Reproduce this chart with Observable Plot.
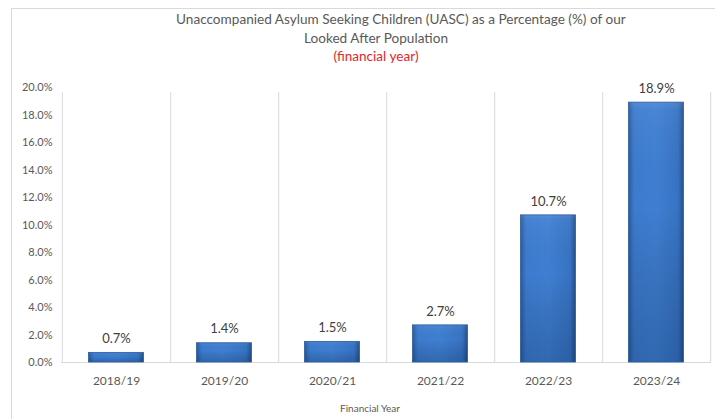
<!DOCTYPE html>
<html>
<head>
<meta charset="utf-8">
<script src="https://cdn.jsdelivr.net/npm/d3@7"></script>
<script src="https://cdn.jsdelivr.net/npm/@observablehq/plot@0.6"></script>
<style>
  body { margin: 0; background: #fff; font-family: Lato, "Open Sans", sans-serif; }
  #wrap { position: relative; width: 715px; height: 419px; overflow: hidden; }
  #frame { position: absolute; left: 11px; top: 8px; width: 720px; height: 430px; border: 1px solid #d9d9d9; box-sizing: border-box; }
  .t { position: absolute; left: 176px; width: 400px; text-align: center; font-size: 13.6px; color: #595959; white-space: nowrap; }
  #xlabel { position: absolute; left: 320px; width: 100px; top: 402px; text-align: center; font-size: 10px; color: #595959; }
  #chart { position: absolute; left: 0; top: 0; }
</style>
</head>
<body>
<div id="wrap">
  <div id="frame"></div>
  <div id="chart"></div>
  <div class="t" style="top:11px">Unaccompanied Asylum Seeking Children (UASC) as a Percentage (%) of our</div>
  <div class="t" style="top:30px">Looked After Population</div>
  <div class="t" style="top:48px;color:#e3262b">(financial year)</div>
  <div id="xlabel">Financial Year</div>
</div>
<script>
const years = ["2018/19", "2019/20", "2020/21", "2021/22", "2022/23", "2023/24"];
const values = [0.007, 0.014, 0.015, 0.027, 0.107, 0.189];
const yTicks = [0, 0.02, 0.04, 0.06, 0.08, 0.10, 0.12, 0.14, 0.16, 0.18, 0.20];

const data = years.map((y, i) => ({year: y, value: values[i]}));
const W = 715, H = 419, ML = 61, MR = 4;
const half = (W - ML - MR) / years.length / 2;

const plot = Plot.plot({
  width: W,
  height: H,
  marginTop: 87,
  marginBottom: 57,
  marginLeft: ML,
  marginRight: MR,
  style: {fontFamily: "Lato, 'Open Sans', sans-serif", background: "transparent"},
  x: {domain: years, padding: 0, label: null},
  y: {domain: [0, 0.2], label: null},
  marks: [
    Plot.ruleX(years, {x: d => d, dx: half, y1: 0, y2: 0.2, stroke: "#d9d9d9", insetBottom: -5}),
    Plot.ruleX([years[0]], {x: d => d, dx: -half, y1: 0, y2: 0.2, stroke: "#d9d9d9", insetBottom: -5}),
    Plot.ruleY([0], {stroke: "#d9d9d9"}),
    Plot.barY(data, {x: "year", y: "value", fill: "url(#barGrad)", insetLeft: 26.5, insetRight: 26.5}),
    Plot.barY(data, {x: "year", y: "value", fill: "url(#shadeGrad)", stroke: "#2b5b9b", strokeWidth: 0.8, insetLeft: 26.5, insetRight: 26.5}),
    Plot.text(data, {x: "year", y: "value", text: d => d3.format(".1%")(d.value), dy: -14, fontSize: 13, fill: "#404040"}),
    Plot.axisY({ticks: yTicks, tickFormat: d3.format(".1%"), tickSize: 0, tickPadding: 9, fontSize: 11, fill: "#595959", label: null}),
    Plot.axisX({tickSize: 0, tickPadding: 14, fontSize: 12, fill: "#595959", label: null})
  ]
});

const ns = "http://www.w3.org/2000/svg";
const defs = document.createElementNS(ns, "defs");
defs.innerHTML = `
  <linearGradient id="barGrad" x1="0" x2="1" y1="0" y2="0">
    <stop offset="0" stop-color="#2a5a9c"/>
    <stop offset="0.1" stop-color="#3c7bce"/>
    <stop offset="0.5" stop-color="#3f7fd2"/>
    <stop offset="0.9" stop-color="#3773c3"/>
    <stop offset="1" stop-color="#24508c"/>
  </linearGradient>
  <linearGradient id="shadeGrad" x1="0" x2="0" y1="0" y2="1">
    <stop offset="0" stop-color="#ffffff" stop-opacity="0.12"/>
    <stop offset="0.03" stop-color="#ffffff" stop-opacity="0.05"/>
    <stop offset="0.4" stop-color="#000000" stop-opacity="0"/>
    <stop offset="1" stop-color="#001a40" stop-opacity="0.22"/>
  </linearGradient>`;
plot.insertBefore(defs, plot.firstChild);
document.getElementById("chart").appendChild(plot);
</script>
</body>
</html>
